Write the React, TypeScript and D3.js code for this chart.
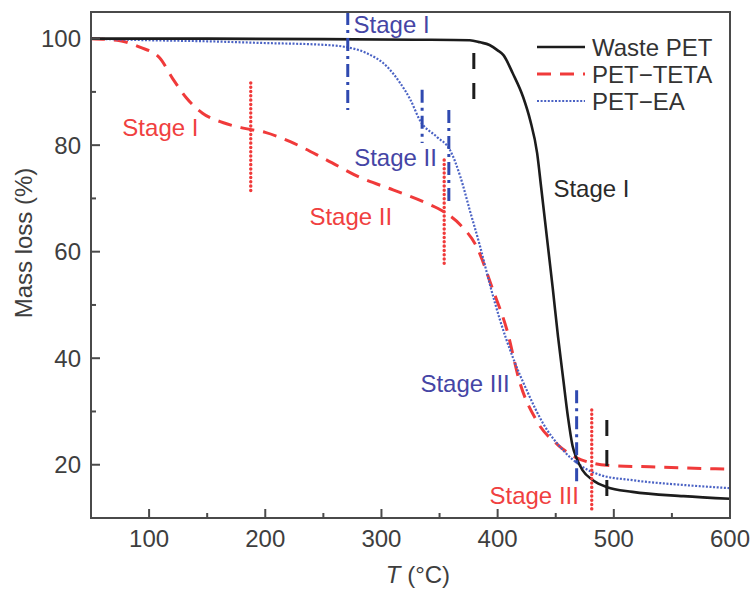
import React from 'react';
import * as d3 from 'd3';

// Thermogravimetric curves: temperature (°C) vs remaining mass (%)
const wasteT = [50, 150, 250, 330, 376, 385, 393, 400, 405, 413, 422, 428, 434, 437.5, 442.5, 447.5, 452, 456.5, 460.5, 464.5, 468, 473, 482, 494, 516, 560, 600];
const wasteM = [100, 100, 99.9, 99.8, 99.7, 99.3, 98.8, 97.8, 96.9, 93.5, 89.0, 84.7, 78.5, 72.0, 62.5, 53.0, 44.0, 36.0, 29.0, 23.5, 21.2, 19.0, 17.1, 15.8, 14.9, 14.1, 13.6];

const tetaT = [50, 75, 92, 109, 120, 132, 146, 164, 181, 200, 222, 253, 281, 310, 339, 353, 368, 382, 396, 408, 419, 434, 452, 468, 482, 494, 531, 595];
const tetaM = [100, 99.6, 98.4, 96.4, 92.6, 88.9, 86.0, 84.2, 83.2, 82.4, 80.6, 77.2, 74.0, 71.6, 69.1, 67.6, 65.0, 60.9, 52.8, 45.3, 35.5, 28.1, 23.7, 21.3, 20.3, 19.9, 19.6, 19.2];

const eaT = [50, 100, 150, 195, 253, 270, 287, 305, 316, 325, 333, 348, 359, 368, 376, 385, 393, 402, 413, 425, 439, 456, 471, 488, 516, 560, 600];
const eaM = [100, 99.7, 99.5, 99.2, 98.8, 98.4, 97.3, 94.7, 91.7, 88.5, 84.7, 81.5, 79.1, 74.0, 67.8, 60.9, 54.1, 47.2, 40.2, 34.0, 27.8, 22.8, 19.9, 18.1, 17.1, 16.2, 15.6];

// Axis ticks
const xTicks = [100, 200, 300, 400, 500, 600];
const xMinorTicks = [150, 250, 350, 450, 550];
const yTicks = [20, 40, 60, 80, 100];
const yMinorTicks = [30, 50, 70, 90];

// Stage boundary markers (series index: 0 waste, 1 TETA, 2 EA)
const markerSeries = [2, 2, 2, 1, 1, 0, 2, 1, 0];
const markerT = [271, 335, 358, 187.5, 354, 379.5, 468, 481, 494];
const markerTop = [105, 90.4, 86.6, 91.7, 77.2, 97.3, 34, 30.3, 28.4];
const markerBottom = [86.6, 80.4, 69.1, 71, 57.1, 87.2, 16.6, 11, 11.5];

// Stage labels: text, series, anchor (T, mass)
const stageText = ['Stage I', 'Stage I', 'Stage II', 'Stage II', 'Stage I', 'Stage III', 'Stage III'];
const stageSeries = [1, 2, 2, 1, 0, 2, 1];
const stageT = [77, 276, 276.5, 238, 448, 333.5, 393];
const stageM = [81.7, 101.1, 76.1, 65, 70.3, 33.7, 12.6];

const seriesNames = ['Waste PET', 'PET\u2212TETA', 'PET\u2212EA'];
const seriesColor = ['#1c1c1c', '#f03a3a', '#4a62c4'];
const markerColor = ['#1c1c1c', '#f03a3a', '#2f49b0'];
const labelColor = ['#2a2a2a', '#f04040', '#4545a5'];
const seriesDash = [null, '14 9', '2 1.6'];
const seriesWidth = [2.6, 3, 2.2];
const markerDash = ['16 14', '0.1 4.2', '13 5 3 5'];
const markerCap = ['butt', 'round', 'butt'];
const markerWidth = [3, 3.4, 3];

const W = 752;
const H = 591;
const left = 91, right = 730, top = 12, bottom = 518;
const font = '"Liberation Sans", Arial, Helvetica, sans-serif';
const fs = 24;

export default function App() {
  const x = d3.scaleLinear().domain([50, 600]).range([left, right]);
  const y = d3.scaleLinear().domain([10, 105]).range([bottom, top]);

  const line = d3
    .line<[number, number]>()
    .x((d) => x(d[0]))
    .y((d) => y(d[1]))
    .curve(d3.curveMonotoneX);

  const series = [
    d3.zip(wasteT, wasteM) as [number, number][],
    d3.zip(tetaT, tetaM) as [number, number][],
    d3.zip(eaT, eaM) as [number, number][],
  ];

  const axisColor = '#4a4a4a';
  const tickColor = '#3e3e3e';

  return (
    <svg
      width={W}
      height={H}
      viewBox={`0 0 ${W} ${H}`}
      style={{ position: 'absolute', left: 0, top: 0, background: '#fff' }}
      fontFamily={font}
    >
      <rect x={0} y={0} width={W} height={H} fill="#fff" />

      {/* curves */}
      {[1, 2, 0].map((i) => (
        <path
          key={`s${i}`}
          d={line(series[i]) || ''}
          fill="none"
          stroke={seriesColor[i]}
          strokeWidth={seriesWidth[i]}
          strokeDasharray={seriesDash[i] || undefined}
          strokeLinejoin="round"
        />
      ))}

      {/* stage boundary markers */}
      {markerT.map((t, i) => {
        const s = markerSeries[i];
        return (
          <line
            key={`m${i}`}
            x1={x(t)}
            x2={x(t)}
            y1={y(markerTop[i])}
            y2={y(markerBottom[i])}
            stroke={markerColor[s]}
            strokeWidth={markerWidth[s]}
            strokeDasharray={markerDash[s]}
            strokeLinecap={markerCap[s] as 'butt' | 'round'}
          />
        );
      })}

      {/* stage labels */}
      {stageText.map((s, i) => (
        <text
          key={`l${i}`}
          x={x(stageT[i])}
          y={y(stageM[i])}
          fontSize={fs}
          fill={labelColor[stageSeries[i]]}
        >
          {s}
        </text>
      ))}

      {/* frame */}
      <rect
        x={left}
        y={top}
        width={right - left}
        height={bottom - top}
        fill="none"
        stroke={axisColor}
        strokeWidth={2}
      />

      {/* x ticks */}
      {xTicks.map((t) => (
        <g key={`xt${t}`}>
          {t < 600 && (
            <line x1={x(t)} x2={x(t)} y1={bottom} y2={bottom - 9} stroke={axisColor} strokeWidth={2} />
          )}
          <text x={x(t)} y={547} textAnchor="middle" fontSize={fs} fill={tickColor}>
            {t}
          </text>
        </g>
      ))}
      {xMinorTicks.map((t) => (
        <line key={`xm${t}`} x1={x(t)} x2={x(t)} y1={bottom} y2={bottom - 5} stroke={axisColor} strokeWidth={2} />
      ))}

      {/* y ticks */}
      {yTicks.map((t) => (
        <g key={`yt${t}`}>
          <line x1={left} x2={left + 9} y1={y(t)} y2={y(t)} stroke={axisColor} strokeWidth={2} />
          <text x={81} y={y(t)} dy="0.36em" textAnchor="end" fontSize={fs} fill={tickColor}>
            {t}
          </text>
        </g>
      ))}
      {yMinorTicks.map((t) => (
        <line key={`ym${t}`} x1={left} x2={left + 5} y1={y(t)} y2={y(t)} stroke={axisColor} strokeWidth={2} />
      ))}

      {/* axis titles */}
      <text x={418} y={583} textAnchor="middle" fontSize={fs} fill={tickColor}>
        <tspan fontStyle="italic">T</tspan>
        <tspan> (°C)</tspan>
      </text>
      <text
        transform="translate(32,243) rotate(-90)"
        textAnchor="middle"
        fontSize={fs}
        fill={tickColor}
      >
        Mass loss (%)
      </text>

      {/* legend */}
      {seriesNames.map((name, i) => {
        const ly = 47 + i * 27;
        return (
          <g key={`lg${i}`}>
            <line
              x1={537}
              x2={585}
              y1={ly}
              y2={ly}
              stroke={seriesColor[i]}
              strokeWidth={seriesWidth[i]}
              strokeDasharray={seriesDash[i] || undefined}
            />
            <text x={592} y={ly + 9} fontSize={fs} fill="#333">
              {name}
            </text>
          </g>
        );
      })}
    </svg>
  );
}
